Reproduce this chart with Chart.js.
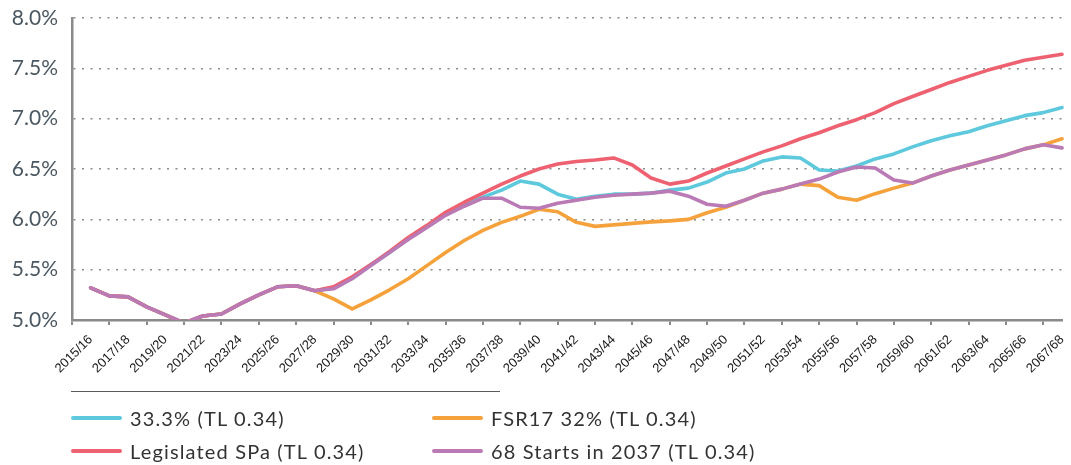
<!DOCTYPE html>
<html><head><meta charset="utf-8">
<script src="https://cdn.jsdelivr.net/npm/chart.js@4/dist/chart.umd.min.js"></script>
<style>
html,body{margin:0;padding:0;background:#fff;}
#wrap{position:relative;width:1071px;height:465px;overflow:hidden;}
#c{position:absolute;left:0;top:0;}
#sep{position:absolute;left:71px;top:391px;width:429px;height:0;border-top:1.5px solid #5a5a5a;}
.leg{position:absolute;font-family:Lato,'Open Sans',sans-serif;font-size:20px;letter-spacing:1.15px;color:#333;white-space:nowrap;line-height:24px;height:24px;}
.leg .sw{position:absolute;left:0;top:10px;width:51px;height:4px;border-radius:2px;}
.leg .tx{position:absolute;left:59px;top:0;}
</style></head><body>
<div id="wrap"><canvas id="c" width="1071" height="465"></canvas><div id="sep"></div><div id="legend"></div></div>
<script>
const xLabels = ['2015/16','2016/17','2017/18','2018/19','2019/20','2020/21','2021/22','2022/23','2023/24','2024/25',
'2025/26','2026/27','2027/28','2028/29','2029/30','2030/31','2031/32','2032/33','2033/34','2034/35',
'2035/36','2036/37','2037/38','2038/39','2039/40','2040/41','2041/42','2042/43','2043/44','2044/45',
'2045/46','2046/47','2047/48','2048/49','2049/50','2050/51','2051/52','2052/53','2053/54','2054/55',
'2055/56','2056/57','2057/58','2058/59','2059/60','2060/61','2061/62','2062/63','2063/64','2064/65',
'2065/66','2066/67','2067/68'];

const yTicks = [5.0, 5.5, 6.0, 6.5, 7.0, 7.5, 8.0];

const s333 = [5.32,5.24,5.23,5.13,5.05,4.97,5.04,5.06,5.16,5.25,
5.33,5.34,5.29,5.32,5.42,5.55,5.67,5.81,5.93,6.05,
6.15,6.22,6.29,6.38,6.35,6.25,6.20,6.23,6.25,6.25,
6.26,6.29,6.31,6.37,6.46,6.50,6.58,6.62,6.61,6.49,
6.48,6.53,6.60,6.65,6.72,6.78,6.83,6.87,6.93,6.98,
7.03,7.06,7.11];

const sFSR17 = [5.32,5.24,5.23,5.13,5.05,4.97,5.04,5.06,5.16,5.25,
5.33,5.34,5.29,5.21,5.11,5.20,5.30,5.41,5.54,5.67,
5.79,5.89,5.97,6.03,6.10,6.075,5.97,5.93,5.945,5.96,
5.975,5.985,6.00,6.065,6.12,6.19,6.26,6.30,6.35,6.335,
6.22,6.19,6.255,6.31,6.36,6.43,6.49,6.54,6.59,6.64,
6.70,6.74,6.80];

const sLegislated = [5.32,5.24,5.23,5.13,5.05,4.97,5.04,5.06,5.16,5.25,
5.33,5.34,5.29,5.33,5.43,5.55,5.68,5.82,5.94,6.07,
6.17,6.26,6.35,6.43,6.50,6.55,6.575,6.59,6.61,6.54,
6.41,6.35,6.38,6.46,6.53,6.60,6.67,6.73,6.80,6.86,
6.93,6.99,7.06,7.15,7.22,7.29,7.36,7.42,7.48,7.53,
7.58,7.61,7.64];

const s68 = [5.32,5.24,5.23,5.13,5.05,4.97,5.04,5.06,5.16,5.25,
5.33,5.34,5.29,5.31,5.41,5.54,5.67,5.80,5.92,6.04,
6.13,6.21,6.21,6.12,6.11,6.16,6.19,6.22,6.24,6.25,
6.26,6.28,6.23,6.15,6.13,6.19,6.26,6.30,6.35,6.40,
6.47,6.52,6.51,6.39,6.36,6.43,6.49,6.54,6.59,6.64,
6.70,6.74,6.71];

const seriesNames = ['33.3% (TL 0.34)','FSR17 32% (TL 0.34)','Legislated SPa (TL 0.34)','68 Starts in 2037 (TL 0.34)'];
const seriesColors = ['#5ec9dd','#f6a23c','#ee6170','#b97ab5'];
const seriesValues = [s333, sFSR17, sLegislated, s68];
const drawOrder = [3, 2, 1, 0];

const datasets = seriesValues.map((vals, k) => ({
  label: seriesNames[k],
  data: vals.map((v, i) => ({x: i, y: v})),
  borderColor: seriesColors[k],
  backgroundColor: seriesColors[k],
  borderWidth: 3.6,
  pointRadius: 0,
  tension: 0,
  order: drawOrder[k],
  borderCapStyle: 'round',
  borderJoinStyle: 'round',
  clip: {left: 5, right: 5, top: 5, bottom: 0}
}));

new Chart(document.getElementById('c').getContext('2d'), {
  type: 'line',
  data: {datasets},
  options: {
    responsive: false,
    animation: false,
    devicePixelRatio: 1,
    layout: {padding: {top: 18, right: 9, bottom: 0, left: 0}},
    plugins: {legend: {display: false}, tooltip: {enabled: false}},
    scales: {
      x: {
        type: 'linear', min: -1, max: xLabels.length - 1,
        afterFit(s) { s.height = 145; s.paddingLeft = 0; s.paddingRight = 0; },
        border: {display: true, color: '#8a8a8a', width: 2.5},
        grid: {drawOnChartArea: false, drawTicks: true, tickLength: 5, color: '#8a8a8a', lineWidth: 2, offset: true},
        ticks: {
          stepSize: 2, includeBounds: false, autoSkip: false, maxRotation: 45, minRotation: 45,
          padding: 7, color: '#1a1a1a',
          font: {family: '"Liberation Sans", Arial, sans-serif', size: 13},
          callback: (v) => (xLabels[v] !== undefined ? xLabels[v] : '')
        }
      },
      y: {
        min: yTicks[0], max: yTicks[yTicks.length - 1],
        afterFit(s) { s.width = 72; s.paddingTop = 0; s.paddingBottom = 0; },
        afterBuildTicks(s) { s.ticks = yTicks.map(v => ({value: v})); },
        border: {display: true, color: '#8a8a8a', width: 2.5, dash: [2, 6.5]},
        grid: {drawTicks: false, lineWidth: 1.5,
          color: (c) => (c.tick && c.tick.value === yTicks[0] ? 'rgba(0,0,0,0)' : '#8c8c8c')},
        ticks: {padding: 14, color: '#4b5862', font: {family: 'Lato, sans-serif', size: 21},
          callback: (v) => Number(v).toFixed(1) + '%'}
      }
    }
  }
});

// HTML legend (2 columns x 2 rows) built from the series
const legPos = [[71, 406], [432, 406], [71, 439], [432, 439]];
const legend = document.getElementById('legend');
seriesNames.forEach((name, k) => {
  const d = document.createElement('div');
  d.className = 'leg';
  d.style.left = legPos[k][0] + 'px';
  d.style.top = legPos[k][1] + 'px';
  const sw = document.createElement('span');
  sw.className = 'sw';
  sw.style.background = seriesColors[k];
  const tx = document.createElement('span');
  tx.className = 'tx';
  tx.textContent = name;
  d.appendChild(sw); d.appendChild(tx);
  legend.appendChild(d);
});
</script>
</body></html>
